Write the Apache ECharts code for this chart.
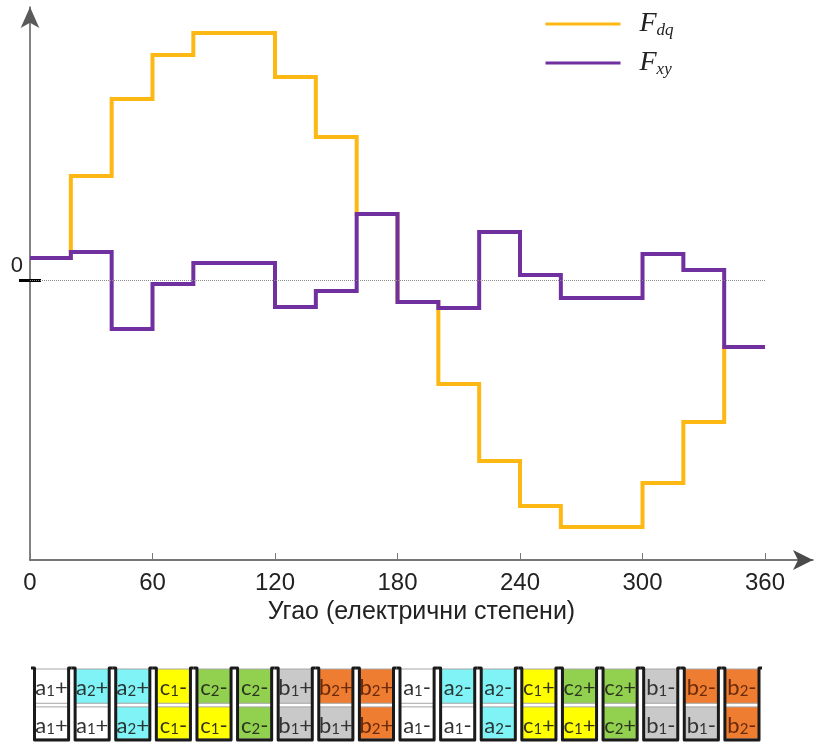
<!DOCTYPE html>
<html>
<head>
<meta charset="utf-8">
<script src="https://cdn.jsdelivr.net/npm/echarts@6/dist/echarts.min.js"></script>
<style>
html,body{margin:0;padding:0;background:#fff;}
#chart{width:814px;height:744px;}
</style>
</head>
<body>
<div id="chart"></div>
<script>
// ---- data ----
const angles = [0,20,40,60,80,100,120,140,160,180,200,220,240,260,280,300,320,340,360];
const fdq = [0.22,1.04,1.81,2.25,2.47,2.47,2.03,1.43,0.66,-0.22,-1.04,-1.81,-2.26,-2.47,-2.47,-2.03,-1.42,-0.67];
const fxy = [0.22,0.28,-0.49,-0.04,0.17,0.17,-0.27,-0.11,0.66,-0.22,-0.28,0.48,0.05,-0.18,-0.18,0.26,0.10,-0.67];
const xTicks = [0,60,120,180,240,300,360];
const yTicks = [0];
const seriesNames = ['Fdq','Fxy'];
const xTitle = 'Угао (електрични степени)';
const slotTop = ['a1+','a2+','a2+','c1-','c2-','c2-','b1+','b2+','b2+','a1-','a2-','a2-','c1+','c2+','c2+','b1-','b2-','b2-'];
const slotBottom = ['a1+','a1+','a2+','c1-','c1-','c2-','b1+','b1+','b2+','a1-','a1-','a2-','c1+','c1+','c2+','b1-','b1-','b2-'];

// ---- styles ----
const phaseFill = {a1:'#ffffff', a2:'#7ff3f5', c1:'#ffff00', c2:'#92d050', b1:'#c9c9c9', b2:'#ee7d32'};
const phaseText = {a1:'#333333', a2:'#2a3535', c1:'#35351c', c2:'#2a351e', b1:'#333333', b2:'#6b2a0a'};

function stepPoints(vals){
  return angles.map((a,i)=>[a, vals[Math.min(i, vals.length-1)]]);
}

const chart = echarts.init(document.getElementById('chart'), null, {renderer:'canvas'});

function slotText(code, cx, cy){
  const key = code.slice(0,2);
  const col = phaseText[key];
  return {
    type:'text',
    style:{
      x:cx, y:cy,
      text:'{m|'+code[0]+'}{s|'+code[1]+'}{m|'+code[2]+'}',
      align:'center', verticalAlign:'middle',
      rich:{
        m:{fontSize:22, fontFamily:'Lato, "Noto Sans", sans-serif', fill:col, lineHeight:26, verticalAlign:'bottom'},
        s:{fontSize:15, fontFamily:'Lato, "Noto Sans", sans-serif', fill:col, lineHeight:14, verticalAlign:'bottom'}
      }
    }
  };
}

const axisFont = '"Liberation Sans", Arial, sans-serif';

const option = {
  animation:false,
  backgroundColor:'#fff',
  legend:{
    orient:'vertical', left:539, top:5, itemWidth:75, itemHeight:30, itemGap:10,
    data:seriesNames,
    lineStyle:{width:3},
    itemStyle:{opacity:0},
    formatter:function(n){ return '{F|'+n[0]+'}{s|'+n.slice(1)+'}'; },
    textStyle:{
      padding:[0,0,0,14],
      rich:{
        F:{fontFamily:'"Liberation Serif", serif', fontStyle:'italic', fontSize:28, color:'#222', lineHeight:30, verticalAlign:'middle'},
        s:{fontFamily:'"Liberation Serif", serif', fontStyle:'italic', fontSize:17, color:'#222', lineHeight:18, verticalAlign:'bottom'}
      }
    }
  },
  grid:[
    {left:30, right:1, top:7, bottom:184},
    {left:31, right:52, top:668, bottom:4}
  ],
  xAxis:[
    {
      type:'value', gridIndex:0, min:0, max:383.5,
      axisLine:{show:true, onZero:false, symbol:['none','arrow'], symbolSize:[15,20], lineStyle:{color:'#4a4a4a', width:1.5}},
      axisTick:{show:true, inside:true, length:7, customValues:xTicks, lineStyle:{color:'#777', width:1}},
      axisLabel:{show:true, customValues:xTicks, fontSize:24, color:'#222', margin:11, fontFamily:axisFont},
      splitLine:{show:false},
      name:xTitle, nameLocation:'middle', nameGap:36,
      nameTextStyle:{fontSize:25, color:'#222', fontFamily:axisFont}
    },
    {type:'value', gridIndex:1, min:0, max:360, show:false}
  ],
  yAxis:[
    {
      type:'value', gridIndex:0, position:'left', min:-2.80, max:2.73,
      axisLine:{show:true, onZero:false, symbol:['none','arrow'], symbolSize:[14,21], lineStyle:{color:'#5a5a5a', width:1.5}},
      axisTick:{show:true, length:11, customValues:yTicks, lineStyle:{color:'#000', width:3}},
      axisLabel:{show:true, customValues:yTicks, fontSize:22, color:'#222', margin:7, verticalAlign:'bottom', padding:[0,0,3,0], fontFamily:axisFont},
      splitLine:{show:false}
    },
    {
      type:'value', gridIndex:0, position:'left', offset:0, min:-2.80, max:2.73,
      axisLine:{show:false, onZero:false},
      axisTick:{show:true, inside:true, length:11, customValues:yTicks, lineStyle:{color:'#000', width:3}},
      axisLabel:{show:false},
      splitLine:{show:false}
    },
    {type:'value', gridIndex:1, min:0, max:1, show:false}
  ],
  series:[
    {
      name:seriesNames[0], type:'line', step:'end', xAxisIndex:0, yAxisIndex:0,
      data:stepPoints(fdq), symbol:'none', z:2,
      lineStyle:{color:'#fdb813', width:4, join:'miter'}, itemStyle:{color:'#fdb813'},
      markLine:{
        silent:true, symbol:'none', label:{show:false},
        lineStyle:{type:'dotted', color:'#8a8a8a', width:1},
        data:[[{coord:[angles[0],0]},{coord:[angles[angles.length-1],0]}]]
      }
    },
    {
      name:seriesNames[1], type:'line', step:'end', xAxisIndex:0, yAxisIndex:0,
      data:stepPoints(fxy), symbol:'none', z:3,
      lineStyle:{color:'#7030a0', width:4, join:'miter'}, itemStyle:{color:'#7030a0'}
    },
    {
      type:'custom', xAxisIndex:1, yAxisIndex:2, silent:true,
      data:slotTop.map((t,k)=>[angles[k], angles[k+1], k]),
      renderItem:function(params, api){
        const k = api.value(2);
        const p0 = api.coord([api.value(0),1]);
        const p1 = api.coord([api.value(1),0]);
        const b0=p0[0], b1=p1[0], top=p0[1], bottom=p1[1], h=bottom-top;
        const L=b0+3.5, R=b1-3;
        const tCode=slotTop[k], bCode=slotBottom[k];
        const hTop=h*0.49, gap=h*0.05;
        return {
          type:'group',
          children:[
            {type:'rect', shape:{x:L, y:top+1, width:R-L, height:hTop-1},
             style:{fill:phaseFill[tCode.slice(0,2)], stroke:'#a6a6a6', lineWidth:1}},
            {type:'rect', shape:{x:L, y:top+hTop+gap, width:R-L, height:h-hTop-gap-1},
             style:{fill:phaseFill[bCode.slice(0,2)], stroke:'#a6a6a6', lineWidth:1}},
            slotText(tCode, (L+R)/2, top+hTop*0.5),
            slotText(bCode, (L+R)/2, top+hTop+gap+(h-hTop-gap)*0.5),
            {type:'polyline', shape:{points:[[b0,top],[L,top],[L,bottom],[R,bottom],[R,top],[b1,top]]},
             style:{fill:null, stroke:'#1a1a1a', lineWidth:3, lineJoin:'round'}}
          ]
        };
      }
    }
  ]
};
chart.setOption(option);
</script>
</body>
</html>
